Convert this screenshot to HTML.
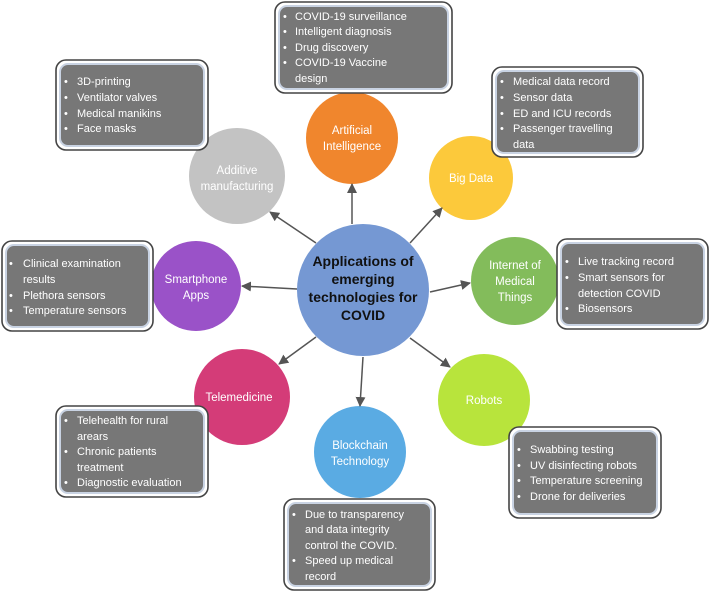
<!DOCTYPE html>
<html><head><meta charset="utf-8"><style>
html,body{margin:0;padding:0;background:#fff;}
svg{display:block;}
.bt{font-family:"Liberation Sans",sans-serif;font-size:11px;fill:#fff;}
.ct{font-family:"Liberation Sans",sans-serif;font-size:11.5px;fill:#fff;text-anchor:middle;}
.mt{font-family:"Liberation Sans",sans-serif;font-size:14px;font-weight:bold;fill:#111;text-anchor:middle;}
</style></head><body>
<svg width="710" height="592" viewBox="0 0 710 592" xmlns="http://www.w3.org/2000/svg">
<defs>
<marker id="ah" markerWidth="10" markerHeight="10" refX="9" refY="5" orient="auto" markerUnits="userSpaceOnUse" viewBox="0 0 10 10">
<path d="M0,0 L10,5 L0,10 z" fill="#555"/></marker>
<g id="none"></g>
</defs>
<!-- circles -->
<circle cx="352" cy="138" r="46" fill="#f0862d"/>
<circle cx="237" cy="176" r="48" fill="#c3c3c3"/>
<circle cx="471" cy="178" r="42" fill="#fcc93b"/>
<circle cx="196" cy="286" r="45" fill="#9a52c8"/>
<circle cx="515" cy="281" r="44" fill="#83bc5b"/>
<circle cx="242" cy="397" r="48" fill="#d43c78"/>
<circle cx="360" cy="452" r="46" fill="#5aabe3"/>
<circle cx="484" cy="400" r="46" fill="#b8e43c"/>
<circle cx="363" cy="290" r="66" fill="#7598d3"/>
<!-- arrows -->
<g stroke="#555" stroke-width="1.5" marker-end="url(#ah)">
<line x1="352" y1="224" x2="352" y2="184"/>
<line x1="316" y1="243" x2="270" y2="212"/>
<line x1="410" y1="243" x2="442" y2="208"/>
<line x1="430" y1="292" x2="470" y2="283"/>
<line x1="297" y1="289" x2="242" y2="286"/>
<line x1="316" y1="337" x2="279" y2="364"/>
<line x1="363" y1="357" x2="360" y2="406"/>
<line x1="410" y1="338" x2="450" y2="367"/>
</g>
<!-- center text -->
<text class="mt" x="363" y="266">Applications of</text>
<text class="mt" x="363" y="284">emerging</text>
<text class="mt" x="363" y="302">technologies for</text>
<text class="mt" x="363" y="320">COVID</text>
<!-- circle labels -->
<text class="ct" x="352" y="134">Artificial</text>
<text class="ct" x="352" y="150">Intelligence</text>
<text class="ct" x="237" y="174">Additive</text>
<text class="ct" x="237" y="190">manufacturing</text>
<text class="ct" x="471" y="182">Big Data</text>
<text class="ct" x="196" y="283">Smartphone</text>
<text class="ct" x="196" y="299">Apps</text>
<text class="ct" x="515" y="269">Internet of</text>
<text class="ct" x="515" y="285">Medical</text>
<text class="ct" x="515" y="301">Things</text>
<text class="ct" x="239" y="401">Telemedicine</text>
<text class="ct" x="360" y="449">Blockchain</text>
<text class="ct" x="360" y="465">Technology</text>
<text class="ct" x="484" y="404">Robots</text>
<!-- boxes -->
<g fill="#767676" stroke="#444" stroke-width="1.6">
</g>
<g>
<rect x="275" y="2" width="177" height="91" rx="10" fill="#fff" stroke="#444" stroke-width="1.6"/>
<rect x="279" y="6" width="169" height="83" rx="8" fill="#777" stroke="#c9d3e3" stroke-width="2"/>
<rect x="56" y="60" width="152" height="90" rx="10" fill="#fff" stroke="#444" stroke-width="1.6"/>
<rect x="60" y="64" width="144" height="82" rx="8" fill="#777" stroke="#c9d3e3" stroke-width="2"/>
<rect x="492" y="67" width="151" height="90" rx="10" fill="#fff" stroke="#444" stroke-width="1.6"/>
<rect x="496" y="71" width="143" height="82" rx="8" fill="#777" stroke="#c9d3e3" stroke-width="2"/>
<rect x="2" y="241" width="151" height="90" rx="10" fill="#fff" stroke="#444" stroke-width="1.6"/>
<rect x="6" y="245" width="143" height="82" rx="8" fill="#777" stroke="#c9d3e3" stroke-width="2"/>
<rect x="557" y="239" width="151" height="90" rx="10" fill="#fff" stroke="#444" stroke-width="1.6"/>
<rect x="561" y="243" width="143" height="82" rx="8" fill="#777" stroke="#c9d3e3" stroke-width="2"/>
<rect x="56" y="406" width="152" height="91" rx="10" fill="#fff" stroke="#444" stroke-width="1.6"/>
<rect x="60" y="410" width="144" height="83" rx="8" fill="#777" stroke="#c9d3e3" stroke-width="2"/>
<rect x="284" y="499" width="151" height="91" rx="10" fill="#fff" stroke="#444" stroke-width="1.6"/>
<rect x="288" y="503" width="143" height="83" rx="8" fill="#777" stroke="#c9d3e3" stroke-width="2"/>
<rect x="509" y="427" width="152" height="91" rx="10" fill="#fff" stroke="#444" stroke-width="1.6"/>
<rect x="513" y="431" width="144" height="83" rx="8" fill="#777" stroke="#c9d3e3" stroke-width="2"/>
</g>
<!-- box texts -->
<g class="bt">
<text x="283" y="20">•</text><text x="295" y="20">COVID-19 surveillance</text>
<text x="283" y="35">•</text><text x="295" y="35">Intelligent diagnosis</text>
<text x="283" y="51">•</text><text x="295" y="51">Drug discovery</text>
<text x="283" y="66">•</text><text x="295" y="66">COVID-19 Vaccine</text>
<text x="295" y="82">design</text>

<text x="64" y="85">•</text><text x="77" y="85">3D-printing</text>
<text x="64" y="101">•</text><text x="77" y="101">Ventilator valves</text>
<text x="64" y="117">•</text><text x="77" y="117">Medical manikins</text>
<text x="64" y="132">•</text><text x="77" y="132">Face masks</text>

<text x="500" y="85">•</text><text x="513" y="85">Medical data record</text>
<text x="500" y="101">•</text><text x="513" y="101">Sensor data</text>
<text x="500" y="117">•</text><text x="513" y="117">ED and ICU records</text>
<text x="500" y="132">•</text><text x="513" y="132">Passenger travelling</text>
<text x="513" y="148">data</text>

<text x="9" y="267">•</text><text x="23" y="267">Clinical examination</text>
<text x="23" y="283">results</text>
<text x="9" y="299">•</text><text x="23" y="299">Plethora sensors</text>
<text x="9" y="314">•</text><text x="23" y="314">Temperature sensors</text>

<text x="565" y="265">•</text><text x="578" y="265">Live tracking record</text>
<text x="565" y="281">•</text><text x="578" y="281">Smart sensors for</text>
<text x="578" y="297">detection COVID</text>
<text x="565" y="312">•</text><text x="578" y="312">Biosensors</text>

<text x="64" y="424">•</text><text x="77" y="424">Telehealth for rural</text>
<text x="77" y="440">arears</text>
<text x="64" y="455">•</text><text x="77" y="455">Chronic patients</text>
<text x="77" y="471">treatment</text>
<text x="64" y="486">•</text><text x="77" y="486">Diagnostic evaluation</text>

<text x="292" y="518">•</text><text x="305" y="518">Due to transparency</text>
<text x="305" y="533">and data integrity</text>
<text x="305" y="549">control the COVID.</text>
<text x="292" y="564">•</text><text x="305" y="564">Speed up medical</text>
<text x="305" y="580">record</text>

<text x="517" y="453">•</text><text x="530" y="453">Swabbing testing</text>
<text x="517" y="469">•</text><text x="530" y="469">UV disinfecting robots</text>
<text x="517" y="484">•</text><text x="530" y="484">Temperature screening</text>
<text x="517" y="500">•</text><text x="530" y="500">Drone for deliveries</text>
</g>
</svg>
</body></html>
